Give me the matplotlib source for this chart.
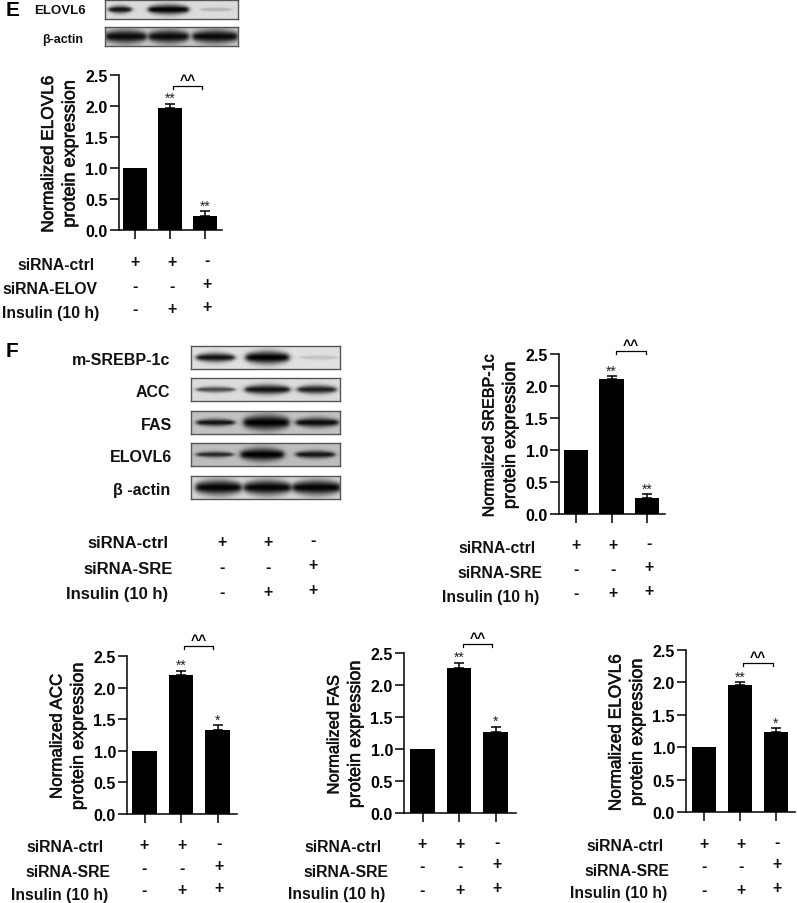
#!/usr/bin/env python3

import numpy as np
import matplotlib
matplotlib.use("Agg")
import matplotlib.pyplot as plt
import matplotlib.patheffects as pe

plt.rcParams['font.family'] = ['Liberation Sans', 'DejaVu Sans']

W, H = 797, 904

# bar heights and error bars
elovl_e_vals = [1.0, 1.96, 0.22]
elovl_e_errs = [0.0, 0.08, 0.08]
srebp_vals = [1.0, 2.11, 0.25]
srebp_errs = [0.0, 0.05, 0.06]
acc_vals = [1.0, 2.20, 1.33]
acc_errs = [0.0, 0.07, 0.08]
fas_vals = [1.0, 2.27, 1.27]
fas_errs = [0.0, 0.08, 0.08]
elovl_f_vals = [1.0, 1.96, 1.23]
elovl_f_errs = [0.0, 0.05, 0.07]

y_ticks = [0.0, 0.5, 1.0, 1.5, 2.0, 2.5]
ctrl_row = ['+', '+', '-']
knock_row = ['-', '-', '+']
insulin_row = ['-', '+', '+']
row_names_e = ['siRNA-ctrl', 'siRNA-ELOV', 'Insulin (10 h)']
row_names_f = ['siRNA-ctrl', 'siRNA-SRE', 'Insulin (10 h)']

# blot bands: lane edges (fraction of box width), darkness, half thickness, background
blot_e_elovl = ([.025, .325, .72], [.20, .63, .955], [.92, 1.0, .2], [.20, .26, .10], .86)
blot_e_actin = ([.0, .33, .66], [.31, .63, 1.0], [.95, .95, .95], [.36, .36, .36], .78)
blot_f_srebp = ([.035, .365, .73], [.29, .655, .98], [.92, 1.0, .14], [.20, .28, .10], .88)
blot_f_acc = ([.035, .36, .71], [.29, .66, .97], [.66, .92, .86], [.13, .21, .19], .86)
blot_f_fas = ([.035, .35, .70], [.29, .655, .985], [.92, 1.0, .95], [.16, .33, .21], .76)
blot_f_elovl = ([.035, .33, .70], [.28, .62, .96], [.8, 1.0, .9], [.13, .28, .17], .74)
blot_f_actin = ([.03, .355, .68], [.335, .665, 1.0], [.98, .98, .98], [.33, .33, .33], .84)


fig = plt.figure(figsize=(W / 100, H / 100), dpi=100)
over = fig.add_axes([0, 0, 1, 1], zorder=5)
over.set_xlim(0, W)
over.set_ylim(H, 0)
over.axis('off')
over.patch.set_alpha(0)


def px_axes(x0, y0, x1, y1, **kw):
    # axes from pixel box, y counted from the top
    return fig.add_axes([x0 / W, 1 - y1 / H, (x1 - x0) / W, (y1 - y0) / H], **kw)


def draw_blot(box, label, band, label_right, size=11.5, label_dy=2.5):
    x0, y0, x1, y1 = box
    lefts, rights, dark, thick, bg = band
    xs = np.linspace(0, 1, 300)
    ys = np.linspace(-.5, .5, 80)
    img = np.full((80, 300), float(bg))
    for l, r, d, t in zip(lefts, rights, dark, thick):
        # bands are lens shaped: thinner towards the ends of the lane
        pos = np.clip((xs - l) / (r - l), 0, 1)
        tx = t * (0.6 + 0.4 * np.sin(np.pi * pos))
        edge = 0.5 * (np.tanh((xs - l) / .02) - np.tanh((xs - r) / .02))
        band_img = np.exp(-(ys[:, None] / tx[None, :]) ** 2) * edge
        img -= band_img * d * bg
    ax = px_axes(x0, y0, x1, y1)
    ax.imshow(np.clip(img, 0, 1), cmap='gray', vmin=0, vmax=1, aspect='auto', interpolation='bilinear')
    ax.set_xticks([])
    ax.set_yticks([])
    for s in ax.spines.values():
        s.set_color('#555555')
        s.set_linewidth(1.0)
    over.text(label_right, (y0 + y1) / 2 + label_dy, label, ha='right', va='center', fontsize=size,
              fontweight='bold', color='#111111')


def draw_panel(vals, errs, ylabel, label_size, marks, left, right, y0, y25, centers, bracket, table):
    sp = centers[1] - centers[0]
    ax = px_axes(left, y25, right, y0)
    x = np.arange(3)
    ax.bar(x, vals, width=24.5 / sp, color='black', zorder=2)
    ax.errorbar(x[1:], vals[1:], yerr=[[0, 0], errs[1:]], fmt='none', ecolor='black',
                elinewidth=1.1, capsize=3.6, capthick=1.1, zorder=1)
    ax.set_xlim((left - centers[0]) / sp, (right - centers[0]) / sp)
    ax.set_ylim(0, 2.5)
    ax.set_xticks(x)
    ax.set_xticklabels([])
    ax.set_yticks(y_ticks)
    ax.set_yticklabels(['%.1f' % t for t in y_ticks], fontsize=11.5, fontweight='bold')
    ax.tick_params(axis='both', length=6.5, width=1.1, pad=1.5)
    ax.spines['top'].set_visible(False)
    ax.spines['right'].set_visible(False)
    ax.spines['left'].set_linewidth(1.1)
    ax.spines['bottom'].set_linewidth(1.1)
    ax.patch.set_alpha(0)

    # the two label lines are stretched differently in the source, so set them apart
    for dx, line, size in [(-70, ylabel, label_size), (-48.5, 'protein expression', 13.0)]:
        over.text(left + dx, (y0 + y25) / 2 + 1.5, line, rotation=90, ha='center', va='center',
                  fontsize=size, color='#111111',
                  path_effects=[pe.withStroke(linewidth=0.4, foreground='#111111')])

    for i, m in zip(x[1:], marks):
        ax.annotate(m, (i, vals[i] + errs[i]), xytext=(0, 1), textcoords='offset points',
                    ha='center', va='baseline', fontsize=10, annotation_clip=False, color='#222222')

    bx0, bx1, by = bracket
    over.plot([bx0, bx0, bx1, bx1], [by + 2.5, by, by, by + 2.5], color='black', lw=0.9)
    over.text((bx0 + bx1) / 2, by - 6, '^^', ha='center', va='center', fontsize=10, fontweight='bold')
    draw_table(*table)


def draw_table(names, name_right, name_y, mark_x, mark_y, size=11.3):
    for name, r, y in zip(names, name_right, name_y):
        over.text(r, y + 1, name, ha='right', va='center', fontsize=size, fontweight='bold', color='#111111')
    for row, y in zip([ctrl_row, knock_row, insulin_row], mark_y):
        for j, (m, xp) in enumerate(zip(row, mark_x)):
            over.text(xp, y - (2 if j == 2 else 0), m, ha='center', va='center', fontsize=11.5,
                      fontweight='bold', color='#111111')


# panel E
over.text(6, 10, 'E', ha='left', va='center', fontsize=15, fontweight='bold')
draw_blot((104.5, 1, 237.5, 20), 'ELOVL6', blot_e_elovl, 86, 9.5, 0.5)
draw_blot((104.5, 28, 237.5, 47), 'β-actin', blot_e_actin, 83, 9, 2.5)
draw_panel(elovl_e_vals, elovl_e_errs, 'Normalized ELOVL6', 12.4, ['**', '**'],
           118.5, 222, 231, 76, [135, 170, 205], (173, 202, 87),
           (row_names_e, [95, 97, 99], [265, 289, 313], [135, 172, 207], [263, 287, 310]))

# panel F
over.text(6, 352, 'F', ha='left', va='center', fontsize=15, fontweight='bold')
draw_blot((190.5, 347, 340, 370), 'm-SREBP-1c', blot_f_srebp, 170)
draw_blot((190.5, 379, 340, 402), 'ACC', blot_f_acc, 170)
draw_blot((190.5, 412, 340, 435), 'FAS', blot_f_fas, 172)
draw_blot((190.5, 444, 340, 467), 'ELOVL6', blot_f_elovl, 172)
draw_blot((190.5, 477, 340, 500), 'β -actin', blot_f_actin, 170)
draw_table(row_names_f, [168, 173, 168], [543, 569, 594], [222, 268, 313], [543, 568, 593], 12)

draw_panel(srebp_vals, srebp_errs, 'Normalized SREBP-1c', 11.6, ['**', '**'],
           559, 665, 515, 355, [576, 611.5, 646.5], (616, 646, 352),
           (row_names_f, [536, 542, 539], [548, 573, 597], [576, 613, 649], [546, 570, 594]))
draw_panel(acc_vals, acc_errs, 'Normalized ACC', 12.2, ['**', '*'],
           127, 237, 815, 657, [144.5, 181, 217.5], (184, 213, 647),
           (row_names_f, [104, 110, 108], [847, 872, 895], [144, 182, 219], [846, 869, 891]))
draw_panel(fas_vals, fas_errs, 'Normalized FAS', 11.9, ['**', '*'],
           404, 516, 814, 654, [422.5, 459, 495.5], (463, 492, 645),
           (row_names_f, [382, 388, 385], [847, 872, 894], [422, 460, 497], [845, 867, 891]))
draw_panel(elovl_f_vals, elovl_f_errs, 'Normalized ELOVL6', 12.4, ['**', '*'],
           686, 795, 813, 651, [704, 740, 776], (743, 773, 664),
           (row_names_f, [664, 669, 667], [846, 871, 893], [704, 741, 777], [845, 867, 891]))

fig.savefig('out.png', dpi=100)
